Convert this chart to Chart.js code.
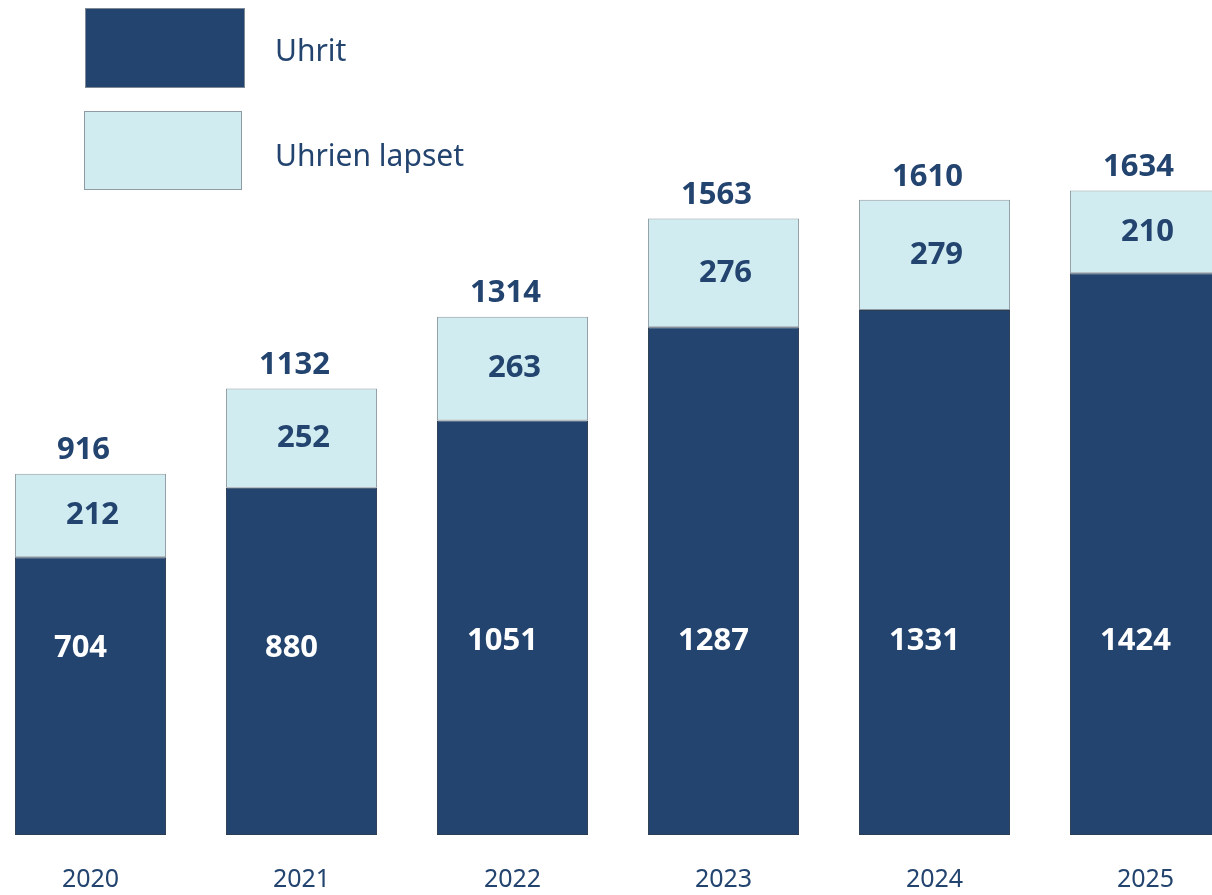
<!DOCTYPE html>
<html>
<head>
<meta charset="utf-8">
<script src="https://cdn.jsdelivr.net/npm/chart.js@4.4.1/dist/chart.umd.min.js"></script>
<style>
  html, body { margin: 0; padding: 0; background: #fff; overflow: hidden; }
  #wrap { position: absolute; left: -15px; top: 0; width: 1266px; height: 925px; }
</style>
</head>
<body>
<div id="wrap"><canvas id="chart"></canvas></div>
<script>
const years = ['2020', '2021', '2022', '2023', '2024', '2025'];
const uhrit = [704, 880, 1051, 1287, 1331, 1424];
const lapset = [212, 252, 263, 276, 279, 210];
const totals = [916, 1132, 1314, 1563, 1610, 1634];
const seriesNames = ['Uhrit', 'Uhrien lapset'];

const darkBlue = '#23446f';
const lightBlue = '#d0ecf0';
const textBlue = '#23446f';
const fontFam = '"Noto Sans", "Open Sans", sans-serif';

// value labels + totals + legend, drawn on top of the bars
const labelPlugin = {
  id: 'labels',
  afterDatasetsDraw(chart) {
    const ctx = chart.ctx;
    ctx.save();
    ctx.textAlign = 'center';
    ctx.textBaseline = 'middle';
    ctx.font = 'bold 31px ' + fontFam;

    const darkMeta = chart.getDatasetMeta(0);
    const lightMeta = chart.getDatasetMeta(1);

    darkMeta.data.forEach(function(bar, i) {
      ctx.fillStyle = '#ffffff';
      let off = i < 2 ? 187 : 194;
      ctx.fillText(String(uhrit[i]), bar.x - 10, bar.base - off);
    });
    lightMeta.data.forEach(function(bar, i) {
      ctx.fillStyle = textBlue;
      ctx.fillText(String(lapset[i]), bar.x + 2, (bar.y + bar.base) / 2);
      ctx.fillText(String(totals[i]), bar.x - 7, bar.y - 23);
    });

    // legend
    const lx = 100;
    ctx.lineWidth = 1;
    ctx.fillStyle = darkBlue;
    ctx.fillRect(lx, 8, 159, 79);
    ctx.strokeStyle = '#7d8a96';
    ctx.strokeRect(lx + 0.5, 8.5, 159, 79);
    ctx.fillStyle = lightBlue;
    ctx.fillRect(lx - 1, 111, 157, 78);
    ctx.strokeStyle = '#8f9ba2';
    ctx.strokeRect(lx - 0.5, 111.5, 157, 78);

    ctx.fillStyle = textBlue;
    ctx.textAlign = 'left';
    ctx.font = '30px ' + fontFam;
    ctx.fillText(seriesNames[0], 290, 52);
    ctx.fillText(seriesNames[1], 290, 157);
    ctx.restore();
  }
};

new Chart(document.getElementById('chart'), {
  type: 'bar',
  data: {
    labels: years,
    datasets: [
      {
        label: seriesNames[0],
        data: uhrit,
        backgroundColor: darkBlue,
        borderColor: '#2b3d52',
        borderWidth: 1,
        borderSkipped: false
      },
      {
        label: seriesNames[1],
        data: lapset,
        backgroundColor: lightBlue,
        borderColor: '#8f9ba2',
        borderWidth: 1,
        borderSkipped: false
      }
    ]
  },
  options: {
    responsive: true,
    maintainAspectRatio: false,
    animation: false,
    layout: { padding: { top: 46, left: 0, right: 0, bottom: 0 } },
    datasets: {
      bar: { categoryPercentage: 1.0, barPercentage: 0.716 }
    },
    plugins: {
      legend: { display: false },
      tooltip: { enabled: false }
    },
    scales: {
      x: {
        stacked: true,
        border: { display: false },
        grid: { display: false, drawTicks: false },
        ticks: {
          color: textBlue,
          padding: 30,
          font: { family: fontFam, size: 25, lineHeight: 1.2 }
        }
      },
      y: {
        stacked: true,
        display: false,
        min: 0,
        max: 2000
      }
    }
  },
  plugins: [labelPlugin]
});
</script>
</body>
</html>
